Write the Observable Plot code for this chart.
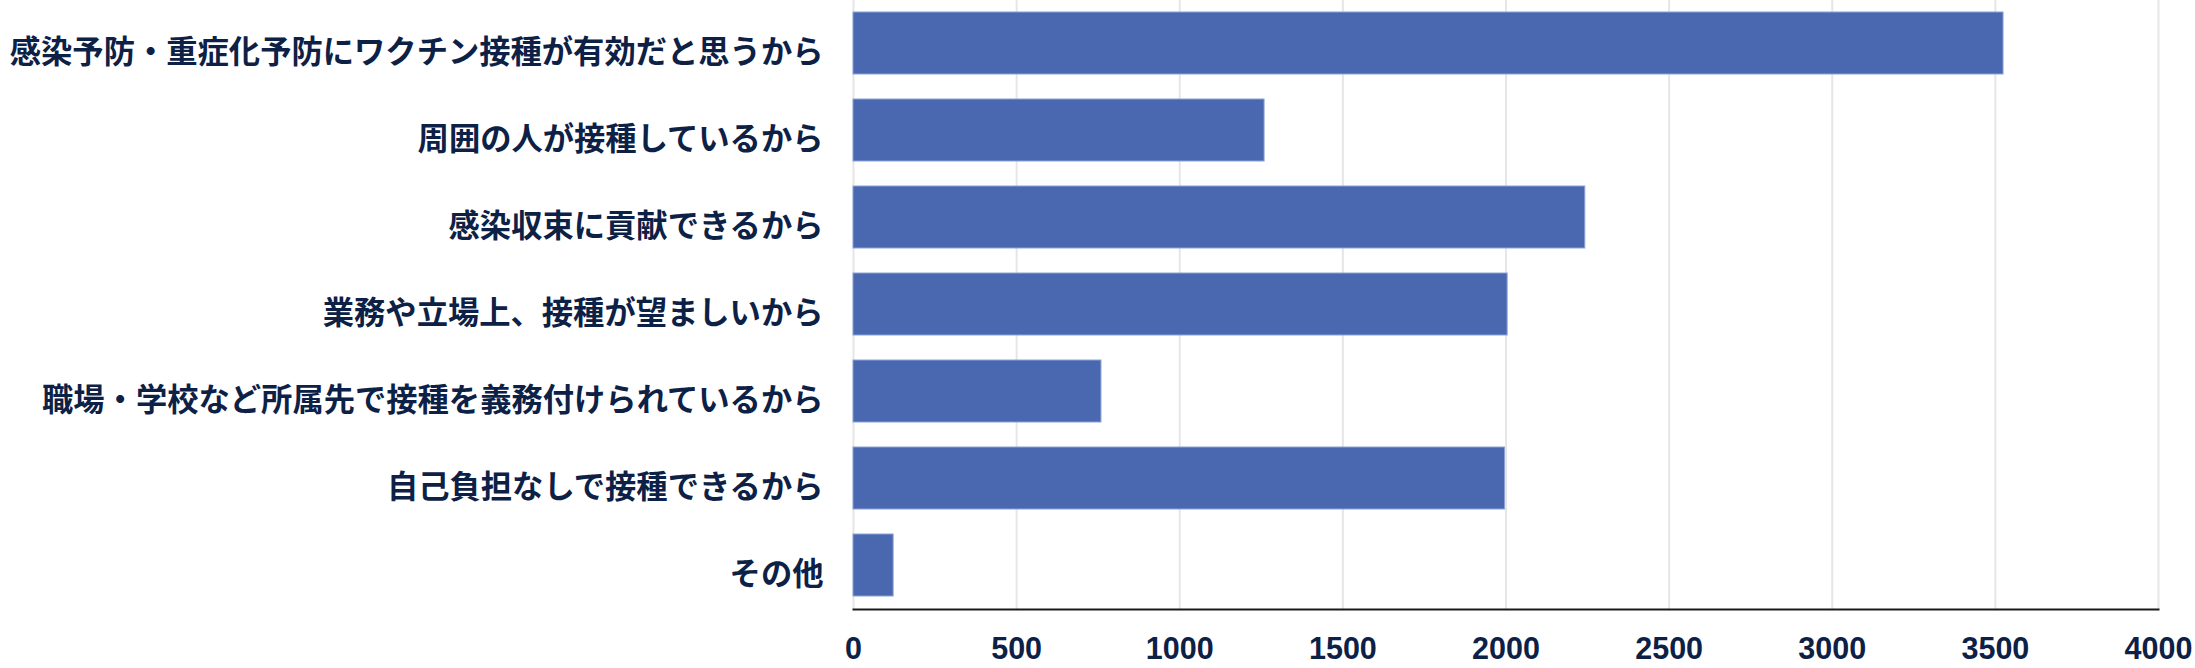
<!DOCTYPE html>
<html>
<head>
<meta charset="utf-8">
<script src="https://cdn.jsdelivr.net/npm/d3@7"></script>
<script src="https://cdn.jsdelivr.net/npm/@observablehq/plot@0.6"></script>
<style>
  html, body { margin: 0; padding: 0; background: #ffffff; }
  #chart svg { display: block; }
</style>
</head>
<body>
<div id="chart"></div>
<script>
const categories = [
  "感染予防・重症化予防にワクチン接種が有効だと思うから",
  "周囲の人が接種しているから",
  "感染収束に貢献できるから",
  "業務や立場上、接種が望ましいから",
  "職場・学校など所属先で接種を義務付けられているから",
  "自己負担なしで接種できるから",
  "その他"
];
const values = [3525, 1260, 2243, 2005, 760, 1997, 123];
const xTicks = [0, 500, 1000, 1500, 2000, 2500, 3000, 3500, 4000];

const data = categories.map((c, i) => ({category: c, value: values[i]}));

const chart = Plot.plot({
  width: 2195,
  height: 668,
  marginLeft: 853,
  marginRight: 37,
  marginTop: 0,
  marginBottom: 59,
  style: {background: "#ffffff", color: "#0d2146"},
  x: {domain: [0, 4000], ticks: xTicks, label: null},
  y: {domain: categories, paddingInner: 0.284, paddingOuter: 0.13, label: null},
  marks: [
    Plot.gridX(xTicks, {stroke: "#e6e6e6", strokeOpacity: 1, strokeWidth: 2}),
    Plot.barX(data, {x: "value", y: "category", fill: "#4968b0", stroke: "#8ba2d6", strokeWidth: 1}),
    Plot.frame({anchor: "bottom", stroke: "#1a1a1a", strokeWidth: 2}),
    Plot.axisX(xTicks, {tickSize: 0, tickPadding: 28, fontSize: 30.5, fontWeight: "bold", fontFamily: "Liberation Sans, Arial, sans-serif", fill: "#0d2146", label: null, tickFormat: d => String(d)}),
    Plot.axisY({tickSize: 0, tickPadding: 30, dy: 9, fontSize: 31.3, fontWeight: "bold", fontFamily: "Noto Sans CJK JP, sans-serif", fill: "#0d2146", label: null})
  ]
});
document.getElementById("chart").appendChild(chart);
</script>
</body>
</html>
